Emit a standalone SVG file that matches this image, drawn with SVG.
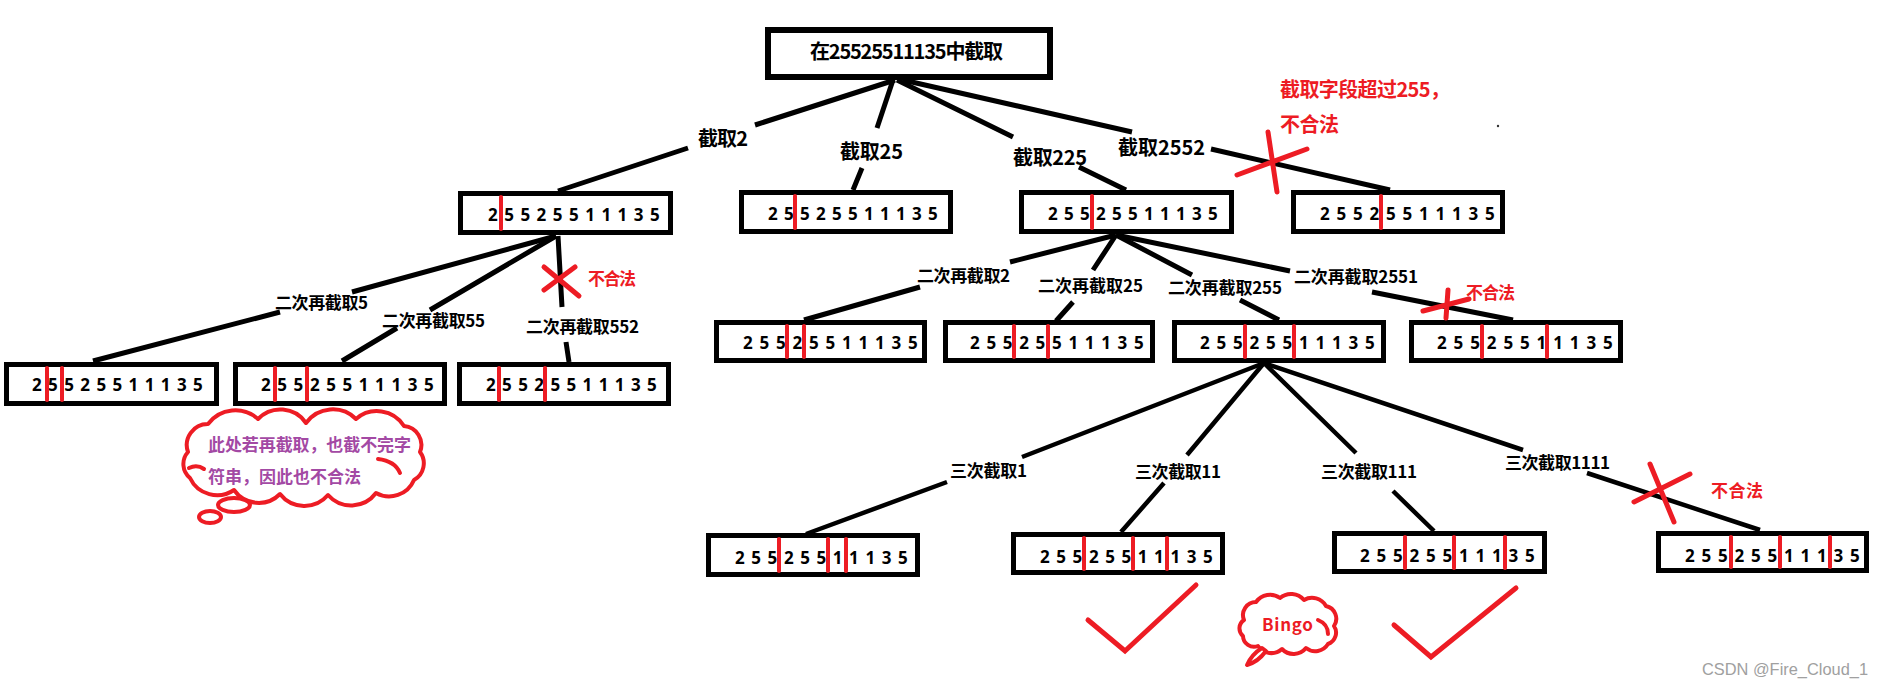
<svg xmlns="http://www.w3.org/2000/svg" width="1884" height="687" viewBox="0 0 1884 687">
<style>
.box{fill:#fff;stroke:#000;stroke-width:5}
.dg{font-family:"Noto Sans","Liberation Sans",sans-serif;font-weight:bold;font-size:17px;fill:#000}
.bar{stroke:#ed1c24;stroke-width:4;stroke-linecap:round}
.lbl{font-family:"Noto Sans CJK SC","Noto Sans",sans-serif;font-weight:bold;font-size:17px;fill:#000}
.big{font-size:20px}
.red{fill:#ed1c24}
.pur{fill:#a349a4}
.ln{stroke:#000;stroke-width:5;fill:none}
.ln3{stroke:#000;stroke-width:4.5;fill:none}
.x{stroke:#ed1c24;stroke-width:5;stroke-linecap:round;fill:none}
.cl{fill:#fff;stroke:#ed1c24;stroke-width:4;stroke-linejoin:round}
.cu{fill:none;stroke:#ed1c24;stroke-width:4;stroke-linecap:round}
</style>
<rect width="1884" height="687" fill="#fff"/>

<g id="connectors">
  <path class="ln" d="M895,80 L755,125 M688,148 L558,191"/>
  <path class="ln" d="M893,80 L877,128 M862,168 L853,190"/>
  <path class="ln" d="M897,80 L1013,137 M1079,167 L1126,190"/>
  <path class="ln" d="M903,80 L1132,132 M1211,149 L1390,190"/>
  <path class="ln" d="M556,236 L352,292 M280,312 L93,361"/>
  <path class="ln" d="M556,236 L430,310 M397,328 L342,361"/>
  <path class="ln" d="M558,236 L562,307 M566,342 L569,362"/>
  <path class="ln" d="M1116,235 L1010,262 M920,287 L804,320"/>
  <path class="ln" d="M1116,235 L1093,270 M1073,302 L1056,321"/>
  <path class="ln" d="M1116,235 L1192,275 M1240,300 L1279,320"/>
  <path class="ln" d="M1116,235 L1290,271 M1372,292 L1513,320"/>
  <path class="ln3" d="M1264,363 L1022,457 M947,482 L806,534"/>
  <path class="ln3" d="M1264,363 L1187,455 M1164,483 L1121,532"/>
  <path class="ln3" d="M1264,363 L1356,453 M1393,491 L1434,531"/>
  <path class="ln3" d="M1264,363 L1523,450 M1587,473 L1760,530"/>
</g>

<g id="labels">
  <text class="lbl big" x="698" y="146" textLength="50">截取2</text>
  <text class="lbl big" x="840" y="159" textLength="63">截取25</text>
  <text class="lbl big" x="1013" y="165" textLength="74">截取225</text>
  <text class="lbl big" x="1118" y="155" textLength="87">截取2552</text>
  <text class="lbl" x="275" y="309" textLength="93">二次再截取5</text>
  <text class="lbl" x="382" y="327" textLength="103">二次再截取55</text>
  <text class="lbl" x="526" y="333" textLength="113">二次再截取552</text>
  <text class="lbl" x="917" y="282" textLength="93">二次再截取2</text>
  <text class="lbl" x="1038" y="292" textLength="105">二次再截取25</text>
  <text class="lbl" x="1168" y="294" textLength="114">二次再截取255</text>
  <text class="lbl" x="1294" y="283" textLength="124">二次再截取2551</text>
  <text class="lbl" x="950" y="477" textLength="77">三次截取1</text>
  <text class="lbl" x="1135" y="478" textLength="86">三次截取11</text>
  <text class="lbl" x="1321" y="478" textLength="96">三次截取111</text>
  <text class="lbl" x="1505" y="469" textLength="105">三次截取1111</text>
</g>

<g id="root">
  <rect x="768" y="30" width="282" height="47" fill="#fff" stroke="#000" stroke-width="6"/>
  <text class="lbl big" x="810" y="59" textLength="193">在25525511135中截取</text>
</g>

<g id="n1a">
  <rect class="box" x="460.5" y="193.5" width="210" height="39"/>
  <text class="dg" x="488 504.2 520.4 536.6 552.8 569 585.2 601.4 617.6 633.8 650" y="221">25525511135</text>
  <line class="bar" x1="501" y1="197" x2="501" y2="229"/>
</g>
<g id="n1b">
  <rect class="box" x="741.5" y="192.5" width="209" height="39"/>
  <text class="dg" x="768 784 800 816 832 848 864 880 896 912 928" y="220">25525511135</text>
  <line class="bar" x1="795" y1="196" x2="795" y2="228"/>
</g>
<g id="n1c">
  <rect class="box" x="1021.5" y="192.5" width="210" height="39"/>
  <text class="dg" x="1048 1064 1080 1096 1112 1128 1144 1160 1176 1192 1208" y="220">25525511135</text>
  <line class="bar" x1="1092" y1="196" x2="1092" y2="228"/>
</g>
<g id="n1d">
  <rect class="box" x="1293.5" y="192.5" width="209" height="39"/>
  <text class="dg" x="1320 1336.5 1353 1369.5 1386 1402.5 1419 1435.5 1452 1468.5 1485" y="220">25525511135</text>
  <line class="bar" x1="1381" y1="196" x2="1381" y2="228"/>
</g>

<g id="n2a">
  <rect class="box" x="6.5" y="364.5" width="210" height="39"/>
  <text class="dg" x="32 48.1 64.2 80.3 96.4 112.5 128.6 144.7 160.8 176.9 193" y="391">25525511135</text>
  <line class="bar" x1="47" y1="368" x2="47" y2="400"/>
  <line class="bar" x1="62" y1="368" x2="62" y2="400"/>
</g>
<g id="n2b">
  <rect class="box" x="235.5" y="364.5" width="209" height="39"/>
  <text class="dg" x="261 277.3 293.6 309.9 326.2 342.5 358.8 375.1 391.4 407.7 424" y="391">25525511135</text>
  <line class="bar" x1="275" y1="368" x2="275" y2="400"/>
  <line class="bar" x1="307" y1="368" x2="307" y2="400"/>
</g>
<g id="n2c">
  <rect class="box" x="459.5" y="364.5" width="209" height="39"/>
  <text class="dg" x="486 502.1 518.2 534.3 550.4 566.5 582.6 598.7 614.8 630.9 647" y="391">25525511135</text>
  <line class="bar" x1="499" y1="368" x2="499" y2="400"/>
  <line class="bar" x1="545" y1="368" x2="545" y2="400"/>
</g>
<g id="n2d">
  <rect class="box" x="716.5" y="322.5" width="208" height="38"/>
  <text class="dg" x="743 759.5 776 792.5 809 825.5 842 858.5 875 891.5 908" y="349">25525511135</text>
  <line class="bar" x1="787" y1="326" x2="787" y2="357"/>
  <line class="bar" x1="804" y1="326" x2="804" y2="357"/>
</g>
<g id="n2e">
  <rect class="box" x="945.5" y="322.5" width="207" height="38"/>
  <text class="dg" x="970 986.4 1002.8 1019.2 1035.6 1052 1068.4 1084.8 1101.2 1117.6 1134" y="349">25525511135</text>
  <line class="bar" x1="1014" y1="326" x2="1014" y2="357"/>
  <line class="bar" x1="1048" y1="326" x2="1048" y2="357"/>
</g>
<g id="n2f">
  <rect class="box" x="1174.5" y="322.5" width="209" height="38"/>
  <text class="dg" x="1200 1216.5 1233 1249.5 1266 1282.5 1299 1315.5 1332 1348.5 1365" y="349">25525511135</text>
  <line class="bar" x1="1245" y1="326" x2="1245" y2="357"/>
  <line class="bar" x1="1294" y1="326" x2="1294" y2="357"/>
</g>
<g id="n2g">
  <rect class="box" x="1411.5" y="322.5" width="209" height="38"/>
  <text class="dg" x="1437 1453.6 1470.2 1486.8 1503.4 1520 1536.6 1553.2 1569.8 1586.4 1603" y="349">25525511135</text>
  <line class="bar" x1="1482" y1="326" x2="1482" y2="357"/>
  <line class="bar" x1="1547" y1="326" x2="1547" y2="357"/>
</g>

<g id="n3a">
  <rect class="box" x="708.5" y="535.5" width="209" height="39"/>
  <text class="dg" x="735 751.3 767.6 783.9 800.2 816.5 832.8 849.1 865.4 881.7 898" y="564">25525511135</text>
  <line class="bar" x1="779" y1="539" x2="779" y2="571"/>
  <line class="bar" x1="828" y1="539" x2="828" y2="571"/>
  <line class="bar" x1="846" y1="539" x2="846" y2="571"/>
</g>
<g id="n3b">
  <rect class="box" x="1013.5" y="534.5" width="209" height="38"/>
  <text class="dg" x="1040 1056.3 1072.6 1088.9 1105.2 1121.5 1137.8 1154.1 1170.4 1186.7 1203" y="563">25525511135</text>
  <line class="bar" x1="1084" y1="538" x2="1084" y2="569"/>
  <line class="bar" x1="1133" y1="538" x2="1133" y2="569"/>
  <line class="bar" x1="1167" y1="538" x2="1167" y2="569"/>
</g>
<g id="n3c">
  <rect class="box" x="1334.5" y="533.5" width="210" height="38"/>
  <text class="dg" x="1360 1376.5 1393 1409.5 1426 1442.5 1459 1475.5 1492 1508.5 1525" y="562">25525511135</text>
  <line class="bar" x1="1405" y1="537" x2="1405" y2="568"/>
  <line class="bar" x1="1454" y1="537" x2="1454" y2="568"/>
  <line class="bar" x1="1505" y1="537" x2="1505" y2="568"/>
</g>
<g id="n3d">
  <rect class="box" x="1658.5" y="533.5" width="208" height="37"/>
  <text class="dg" x="1685 1701.5 1718 1734.5 1751 1767.5 1784 1800.5 1817 1833.5 1850" y="562">25525511135</text>
  <line class="bar" x1="1731" y1="537" x2="1731" y2="567"/>
  <line class="bar" x1="1780" y1="537" x2="1780" y2="567"/>
  <line class="bar" x1="1830" y1="537" x2="1830" y2="567"/>
</g>

<g id="marks">
  <path class="x" d="M1268,132 L1277,192 M1237,175 L1307,149"/>
  <path class="x" d="M544,267 L579,296 M575,267 L544,290"/>
  <path class="x" d="M1448,290 L1446,318 M1423,311 L1469,299"/>
  <path class="x" d="M1650,464 L1674,522 M1634,502 L1690,474"/>
  <path class="x" stroke-width="4" stroke-linecap="butt" stroke-linejoin="miter" d="M1088,620 L1125,651 L1196,585"/>
  <path class="x" stroke-width="4" stroke-linecap="butt" stroke-linejoin="miter" d="M1394,625 L1431,657 L1516,588"/>
  <text class="lbl big red" x="1280" y="97" textLength="170">截取字段超过255，</text>
  <text class="lbl big red" x="1280" y="132" textLength="59">不合法</text>
  <text class="lbl red" x="588" y="285" font-size="16" textLength="48">不合法</text>
  <text class="lbl red" x="1466" y="299" font-size="16" textLength="49">不合法</text>
  <text class="lbl red" x="1711" y="497" textLength="52">不合法</text>
  <circle cx="1498" cy="126" r="1.2" fill="#333"/>
</g>

<g id="cloud1">
  <path class="cl" d="M188,452 A21,21 0 0 1 208,424 A34,34 0 0 1 258,419 A31,31 0 0 1 306,423 A33,33 0 0 1 356,419 A32,32 0 0 1 404,426 A19,19 0 0 1 420,452 A19,19 0 0 1 414,480 A27,27 0 0 1 376,493 A31,31 0 0 1 328,495 A31,31 0 0 1 280,494 A30,30 0 0 1 234,490 A30,30 0 0 1 190,478 A18,18 0 0 1 188,452 Z"/>
  <path class="cu" d="M378,459 Q395,461 400,473"/>
  <path class="cu" d="M189,468 Q197,464 204,469"/>
  <ellipse class="cl" cx="234" cy="505" rx="16" ry="7"/>
  <ellipse class="cl" cx="210" cy="517" rx="11" ry="6"/>
  <text class="lbl pur" x="208" y="451" textLength="203">此处若再截取，也截不完字</text>
  <text class="lbl pur" x="208" y="483" textLength="153">符串，因此也不合法</text>
</g>

<g id="cloud2">
  <path class="cl" d="M1244,620 A13,13 0 0 1 1256,602 A17,17 0 0 1 1280,598 A17,17 0 0 1 1304,600 A16,16 0 0 1 1326,606 A13,13 0 0 1 1334,626 A12,12 0 0 1 1328,644 A15,15 0 0 1 1306,648 A16,16 0 0 1 1282,649 A16,16 0 0 1 1258,646 A11,11 0 0 1 1243,636 A10,10 0 0 1 1244,620 Z"/>
  <path class="cu" d="M1318,620 Q1328,624 1328,634"/>
  <path class="cl" d="M1262,648 Q1252,654 1247,665 Q1258,662 1266,651 Z"/>
  <text class="lbl red" x="1262" y="631" font-size="16" textLength="51">Bingo</text>
</g>

<text x="1702" y="675" font-family="Liberation Sans, Arial, sans-serif" font-size="17" fill="#a0a0a0" textLength="166" lengthAdjust="spacingAndGlyphs">CSDN @Fire_Cloud_1</text>
</svg>
